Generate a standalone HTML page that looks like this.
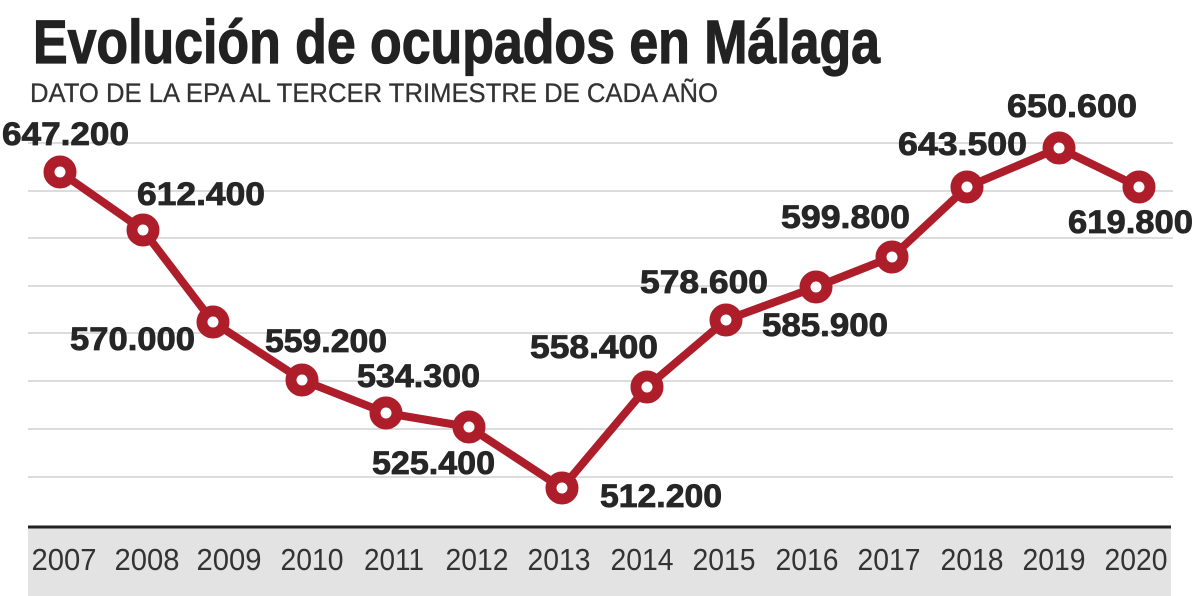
<!DOCTYPE html>
<html><head><meta charset="utf-8"><style>
html,body{margin:0;padding:0;background:#fff;}
svg{display:block;}
</style></head><body>
<svg width="1200" height="596" viewBox="0 0 1200 596" xmlns="http://www.w3.org/2000/svg" font-family="'Liberation Sans Narrow','Liberation Sans',sans-serif">
<rect x="0" y="0" width="1200" height="596" fill="#fff"/>
<rect x="28" y="527" width="1143" height="69" fill="#e3e3e3"/>
<g stroke="#dcdcdc" stroke-width="2">
<line x1="28" x2="1173" y1="143" y2="143"/>
<line x1="28" x2="1173" y1="191" y2="191"/>
<line x1="28" x2="1173" y1="238" y2="238"/>
<line x1="28" x2="1173" y1="286" y2="286"/>
<line x1="28" x2="1173" y1="333" y2="333"/>
<line x1="28" x2="1173" y1="381" y2="381"/>
<line x1="28" x2="1173" y1="429" y2="429"/>
<line x1="28" x2="1173" y1="477" y2="477"/>
</g>
<line x1="28" x2="1171" y1="527" y2="527" stroke="#222" stroke-width="3"/>
<text x="33" y="63" font-size="61" font-weight="bold" fill="#222" stroke="#222" stroke-width="1.2" textLength="847" lengthAdjust="spacingAndGlyphs">Evolución de ocupados en Málaga</text>
<text x="30" y="102" font-size="27" fill="#333" stroke="#333" stroke-width="0.3" textLength="688" lengthAdjust="spacingAndGlyphs">DATO DE LA EPA AL TERCER TRIMESTRE DE CADA AÑO</text>
<polyline fill="none" stroke="#ad1e2a" stroke-width="8" stroke-linejoin="round" points="60,172 143,230 213,322 302,380 386,413 469,427 562,488 647,387 726,320 816,287 892,257 967,187 1059,148 1139,187"/>
<g fill="#fff" stroke="#ad1e2a" stroke-width="11">
<circle cx="60" cy="172" r="11"/><circle cx="143" cy="230" r="11"/><circle cx="213" cy="322" r="11"/><circle cx="302" cy="380" r="11"/><circle cx="386" cy="413" r="11"/><circle cx="469" cy="427" r="11"/><circle cx="562" cy="488" r="11"/><circle cx="647" cy="387" r="11"/><circle cx="726" cy="320" r="11"/><circle cx="816" cy="287" r="11"/><circle cx="892" cy="257" r="11"/><circle cx="967" cy="187" r="11"/><circle cx="1059" cy="148" r="11"/><circle cx="1139" cy="187" r="11"/>
</g>
<g font-size="32" font-weight="bold" fill="#262626" stroke="#262626" stroke-width="0.8" font-family="'Liberation Sans',sans-serif">
<text x="2" y="145" textLength="127" lengthAdjust="spacingAndGlyphs">647.200</text>
<text x="137" y="205" textLength="128" lengthAdjust="spacingAndGlyphs">612.400</text>
<text x="70" y="350" textLength="125" lengthAdjust="spacingAndGlyphs">570.000</text>
<text x="265" y="352" textLength="122" lengthAdjust="spacingAndGlyphs">559.200</text>
<text x="357" y="387" textLength="123" lengthAdjust="spacingAndGlyphs">534.300</text>
<text x="372" y="474" textLength="123" lengthAdjust="spacingAndGlyphs">525.400</text>
<text x="600" y="507" textLength="122" lengthAdjust="spacingAndGlyphs">512.200</text>
<text x="530" y="358" textLength="128" lengthAdjust="spacingAndGlyphs">558.400</text>
<text x="640" y="293" textLength="128" lengthAdjust="spacingAndGlyphs">578.600</text>
<text x="762" y="336" textLength="126" lengthAdjust="spacingAndGlyphs">585.900</text>
<text x="781" y="228" textLength="129" lengthAdjust="spacingAndGlyphs">599.800</text>
<text x="898" y="155" textLength="129" lengthAdjust="spacingAndGlyphs">643.500</text>
<text x="1007" y="117" textLength="130" lengthAdjust="spacingAndGlyphs">650.600</text>
<text x="1068" y="233" textLength="125" lengthAdjust="spacingAndGlyphs">619.800</text>
</g>
<g font-size="31" fill="#333" text-anchor="middle">
<text x="64" y="570" textLength="65" lengthAdjust="spacingAndGlyphs">2007</text><text x="147" y="570" textLength="65" lengthAdjust="spacingAndGlyphs">2008</text><text x="229" y="570" textLength="65" lengthAdjust="spacingAndGlyphs">2009</text><text x="312" y="570" textLength="63" lengthAdjust="spacingAndGlyphs">2010</text><text x="394" y="570" textLength="60" lengthAdjust="spacingAndGlyphs">2011</text><text x="477" y="570" textLength="63" lengthAdjust="spacingAndGlyphs">2012</text><text x="559" y="570" textLength="63" lengthAdjust="spacingAndGlyphs">2013</text><text x="642" y="570" textLength="63" lengthAdjust="spacingAndGlyphs">2014</text><text x="724" y="570" textLength="63" lengthAdjust="spacingAndGlyphs">2015</text><text x="807" y="570" textLength="63" lengthAdjust="spacingAndGlyphs">2016</text><text x="889" y="570" textLength="63" lengthAdjust="spacingAndGlyphs">2017</text><text x="972" y="570" textLength="63" lengthAdjust="spacingAndGlyphs">2018</text><text x="1054" y="570" textLength="63" lengthAdjust="spacingAndGlyphs">2019</text><text x="1136" y="570" textLength="63" lengthAdjust="spacingAndGlyphs">2020</text>
</g>
</svg>
</body></html>
